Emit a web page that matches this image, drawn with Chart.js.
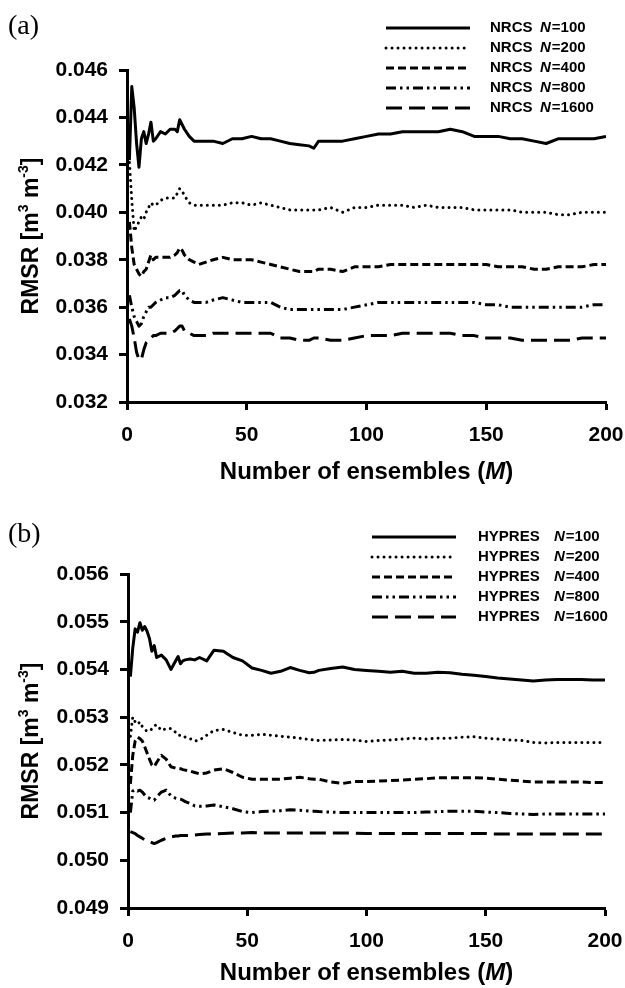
<!DOCTYPE html>
<html>
<head>
<meta charset="utf-8">
<script src="https://cdn.jsdelivr.net/npm/chart.js@4.4.2/dist/chart.umd.min.js"></script>
<style>
  html, body { margin: 0; padding: 0; background: #fff; }
  .panel { position: relative; width: 625px; height: 494px; }
</style>
</head>
<body>
<div class="panel"><canvas id="chartA" width="625" height="494"></canvas></div>
<div class="panel"><canvas id="chartB" width="625" height="494"></canvas></div>
<script>
// number of ensembles (x values shared by every series)
const M = [1, 2, 3, 4, 5, 6, 7, 8, 9, 10, 11, 12, 14, 16, 18, 20, 21, 22, 23, 24, 26, 28, 30, 33, 36, 40,
  44, 48, 52, 56, 60, 64, 68, 72, 76, 78, 80, 85, 90, 95, 100, 105, 110, 115, 120, 125, 130, 135, 140,
  145, 150, 155, 160, 165, 170, 175, 180, 185, 190, 195, 200];

const N_LABELS = ['100', '200', '400', '800', '1600'];

// (a) NRCS
const NRCS_100 = [0.0422, 0.0453, 0.0444, 0.0429, 0.0419, 0.0431, 0.0434, 0.0429, 0.0433, 0.0438, 0.0430,
  0.0431, 0.0434, 0.0433, 0.0435, 0.0435, 0.0434, 0.0439, 0.0437, 0.0435, 0.0432, 0.0430, 0.0430, 0.0430,
  0.0430, 0.0429, 0.0431, 0.0431, 0.0432, 0.0431, 0.0431, 0.0430, 0.0429, 0.04285, 0.0428, 0.0427, 0.0430,
  0.0430, 0.0430, 0.0431, 0.0432, 0.0433, 0.0433, 0.0434, 0.0434, 0.0434, 0.0434, 0.0435, 0.0434, 0.0432,
  0.0432, 0.0432, 0.0431, 0.0431, 0.0430, 0.0429, 0.0431, 0.0431, 0.0431, 0.0431, 0.0432];
const NRCS_200 = [0.0421, 0.0405, 0.0392, 0.0394, 0.0396, 0.0398, 0.0397, 0.0400, 0.0402, 0.0404, 0.0403,
  0.0403, 0.0405, 0.0406, 0.0406, 0.0406, 0.0408, 0.0410, 0.0409, 0.0407, 0.0404, 0.0403, 0.0403, 0.0403,
  0.0403, 0.0403, 0.0404, 0.0404, 0.0403, 0.0404, 0.0403, 0.0402, 0.0401, 0.0401, 0.0401, 0.0401, 0.0401,
  0.0402, 0.0400, 0.0402, 0.0402, 0.0403, 0.0403, 0.0403, 0.0402, 0.0403, 0.0402, 0.0402, 0.0402, 0.0401,
  0.0401, 0.0401, 0.0401, 0.0400, 0.0400, 0.0400, 0.0399, 0.0399, 0.0400, 0.0400, 0.0400];
const NRCS_400 = [0.0396, 0.0385, 0.0378, 0.0376, 0.0374, 0.0373, 0.0375, 0.0376, 0.0379, 0.0382, 0.0380,
  0.0381, 0.0381, 0.0381, 0.0381, 0.0382, 0.0383, 0.0385, 0.0384, 0.0382, 0.0380, 0.0379, 0.0378, 0.0379,
  0.0380, 0.0381, 0.0380, 0.0380, 0.0380, 0.0379, 0.0378, 0.0377, 0.0376, 0.0375, 0.0375, 0.0375, 0.0376,
  0.0376, 0.0375, 0.0377, 0.0377, 0.0377, 0.0378, 0.0378, 0.0378, 0.0378, 0.0378, 0.0378, 0.0378, 0.0378,
  0.0378, 0.0377, 0.0377, 0.0377, 0.0376, 0.0376, 0.0377, 0.0377, 0.0377, 0.0378, 0.0378];
const NRCS_800 = [0.0365, 0.0360, 0.0356, 0.0354, 0.0352, 0.0353, 0.0356, 0.0358, 0.0360, 0.0360, 0.0361,
  0.0362, 0.0363, 0.0364, 0.0364, 0.0365, 0.0366, 0.0367, 0.0367, 0.0365, 0.0363, 0.0362, 0.0362, 0.0362,
  0.0363, 0.0364, 0.0363, 0.0362, 0.0362, 0.0362, 0.0362, 0.0360, 0.0359, 0.0359, 0.0359, 0.0359, 0.0359,
  0.0359, 0.0359, 0.0360, 0.0361, 0.0362, 0.0362, 0.0362, 0.0362, 0.0362, 0.0362, 0.0362, 0.0362, 0.0362,
  0.0361, 0.0361, 0.0360, 0.0360, 0.0360, 0.0360, 0.0360, 0.0360, 0.0360, 0.0361, 0.0361];
const NRCS_1600 = [0.0355, 0.0352, 0.0347, 0.0341, 0.0338, 0.0338, 0.0342, 0.0345, 0.0346, 0.0347, 0.0348,
  0.0348, 0.0349, 0.0349, 0.0349, 0.0350, 0.0351, 0.0352, 0.0352, 0.0350, 0.0349, 0.0348, 0.0348, 0.0348,
  0.0349, 0.0349, 0.0349, 0.0349, 0.0349, 0.0349, 0.0349, 0.0347, 0.0347, 0.0346, 0.0346, 0.0347, 0.0347,
  0.0346, 0.0346, 0.0347, 0.0348, 0.0348, 0.0348, 0.0349, 0.0349, 0.0349, 0.0349, 0.0349, 0.0348, 0.0348,
  0.0347, 0.0347, 0.0347, 0.0346, 0.0346, 0.0346, 0.0346, 0.0346, 0.0347, 0.0347, 0.0347];

// (b) HYPRES
const HYPRES_100 = [0.05385, 0.05445, 0.05485, 0.05478, 0.05498, 0.05482, 0.05490, 0.05480, 0.05465,
  0.05438, 0.05450, 0.05425, 0.05430, 0.05420, 0.05400, 0.05418, 0.05427, 0.05412, 0.05418, 0.05420,
  0.05422, 0.05420, 0.05425, 0.05418, 0.05440, 0.05438, 0.05425, 0.05418, 0.05403, 0.05398, 0.05392,
  0.05396, 0.05404, 0.05398, 0.05393, 0.05394, 0.05398, 0.05402, 0.05405, 0.05400, 0.05398, 0.05396,
  0.05394, 0.05396, 0.05392, 0.05392, 0.05394, 0.05393, 0.05390, 0.05388, 0.05385, 0.05382, 0.05380,
  0.05378, 0.05376, 0.05378, 0.05379, 0.05379, 0.05379, 0.05378, 0.05378];
const HYPRES_200 = [0.05260, 0.05300, 0.05290, 0.05285, 0.05290, 0.05280, 0.05275, 0.05270, 0.05272,
  0.05275, 0.05282, 0.05284, 0.05272, 0.05276, 0.05276, 0.05268, 0.05262, 0.05262, 0.05262, 0.05258,
  0.05255, 0.05250, 0.05252, 0.05262, 0.05272, 0.05274, 0.05268, 0.05262, 0.05262, 0.05264, 0.05262,
  0.05260, 0.05258, 0.05256, 0.05253, 0.05252, 0.05251, 0.05252, 0.05253, 0.05252, 0.05249, 0.05251,
  0.05252, 0.05254, 0.05256, 0.05254, 0.05256, 0.05256, 0.05258, 0.05259, 0.05256, 0.05254, 0.05252,
  0.05251, 0.05247, 0.05246, 0.05247, 0.05247, 0.05247, 0.05247, 0.05247];
const HYPRES_400 = [0.05160, 0.05220, 0.05250, 0.05258, 0.05255, 0.05250, 0.05238, 0.05225, 0.05212,
  0.05200, 0.05196, 0.05205, 0.05220, 0.05212, 0.05196, 0.05193, 0.05193, 0.05192, 0.05190, 0.05189,
  0.05187, 0.05184, 0.05181, 0.05183, 0.05189, 0.05192, 0.05184, 0.05174, 0.05170, 0.05170, 0.05170,
  0.05170, 0.05172, 0.05174, 0.05171, 0.05170, 0.05170, 0.05164, 0.05161, 0.05165, 0.05165, 0.05166,
  0.05167, 0.05168, 0.05170, 0.05171, 0.05173, 0.05173, 0.05173, 0.05173, 0.05172, 0.05170, 0.05168,
  0.05166, 0.05164, 0.05164, 0.05164, 0.05164, 0.05164, 0.05163, 0.05163];
const HYPRES_800 = [0.05100, 0.05145, 0.05148, 0.05145, 0.05147, 0.05143, 0.05137, 0.05132, 0.05130,
  0.05127, 0.05126, 0.05133, 0.05143, 0.05147, 0.05135, 0.05130, 0.05129, 0.05128, 0.05126, 0.05123,
  0.05119, 0.05114, 0.05113, 0.05114, 0.05116, 0.05112, 0.05108, 0.05102, 0.05100, 0.05102, 0.05103,
  0.05104, 0.05106, 0.05105, 0.05103, 0.05103, 0.05102, 0.05101, 0.05100, 0.05100, 0.05100, 0.05100,
  0.05100, 0.05100, 0.05100, 0.05101, 0.05102, 0.05103, 0.05103, 0.05103, 0.05101, 0.05100, 0.05098,
  0.05097, 0.05096, 0.05097, 0.05097, 0.05097, 0.05097, 0.05097, 0.05097];
const HYPRES_1600 = [0.05060, 0.05058, 0.05056, 0.05052, 0.05049, 0.05046, 0.05043, 0.05041, 0.05039,
  0.05037, 0.05035, 0.05037, 0.05042, 0.05046, 0.05049, 0.05051, 0.05051, 0.05052, 0.05052, 0.05052,
  0.05052, 0.05053, 0.05054, 0.05055, 0.05055, 0.05056, 0.05057, 0.05057, 0.05058, 0.05057, 0.05057,
  0.05057, 0.05057, 0.05057, 0.05057, 0.05057, 0.05057, 0.05057, 0.05057, 0.05057, 0.05056, 0.05056,
  0.05056, 0.05056, 0.05056, 0.05056, 0.05056, 0.05056, 0.05056, 0.05056, 0.05056, 0.05055, 0.05055,
  0.05055, 0.05055, 0.05055, 0.05055, 0.05055, 0.05055, 0.05055, 0.05055];

const X_TICKS = [0, 50, 100, 150, 200];
const Y_TICKS_A = [0.032, 0.034, 0.036, 0.038, 0.040, 0.042, 0.044, 0.046];
const Y_TICKS_B = [0.049, 0.050, 0.051, 0.052, 0.053, 0.054, 0.055, 0.056];

const SANS = "'Liberation Sans', Arial, sans-serif";
const SERIF = "'Liberation Serif', 'Times New Roman', serif";

// one line style per N, same order as N_LABELS
const LINE_STYLES = [
  { borderDash: [], borderCapStyle: 'butt' },
  { borderDash: [0.01, 6], borderCapStyle: 'round' },
  { borderDash: [8, 4], borderCapStyle: 'butt' },
  { borderDash: [10, 4, 2.5, 4, 2.5, 4], borderCapStyle: 'butt' },
  { borderDash: [16, 7], borderCapStyle: 'butt' }
];

// legend, panel tag and axis titles (mixed italic / superscript text)
const figureText = {
  id: 'figureText',
  afterDraw(chart, args, opts) {
    const { ctx, chartArea } = chart;
    ctx.save();
    ctx.fillStyle = '#000';
    ctx.strokeStyle = '#000';

    // panel tag
    ctx.font = `28px ${SERIF}`;
    ctx.textBaseline = 'alphabetic';
    ctx.textAlign = 'left';
    ctx.fillText(opts.tag, 8, opts.tagY);

    // legend
    chart.data.datasets.forEach((ds, i) => {
      const y = opts.legendTop + i * 20;
      ctx.beginPath();
      ctx.lineWidth = ds.borderWidth;
      ctx.lineCap = ds.borderCapStyle;
      ctx.setLineDash(ds.borderDash);
      ctx.moveTo(opts.lineX1, y);
      ctx.lineTo(opts.lineX2, y);
      ctx.stroke();
      ctx.setLineDash([]);
      ctx.textBaseline = 'middle';
      ctx.font = `bold 15px ${SANS}`;
      ctx.fillText(opts.name, opts.textX, y);
      const nx = opts.textX + opts.nOffset;
      ctx.font = `italic bold 15px ${SANS}`;
      ctx.fillText('N', nx, y);
      const nw = ctx.measureText('N').width;
      ctx.font = `bold 15px ${SANS}`;
      ctx.fillText('=' + N_LABELS[i], nx + nw + 1, y);
    });

    // x title: Number of ensembles (M)
    const parts = [
      [`bold 24px ${SANS}`, 'Number of ensembles ('],
      [`italic bold 24px ${SANS}`, 'M'],
      [`bold 24px ${SANS}`, ')']
    ];
    let total = 0;
    parts.forEach(p => { ctx.font = p[0]; total += ctx.measureText(p[1]).width; });
    let x = (chartArea.left + chartArea.right) / 2 - total / 2;
    ctx.textBaseline = 'alphabetic';
    parts.forEach(p => {
      ctx.font = p[0];
      ctx.fillText(p[1], x, opts.xTitleY);
      x += ctx.measureText(p[1]).width;
    });

    // y title: RMSR [m3 m-3]
    const yparts = [
      [`bold 23px ${SANS}`, 'RMSR [m', 0],
      [`bold 14px ${SANS}`, '3', -10],
      [`bold 23px ${SANS}`, ' m', 0],
      [`bold 14px ${SANS}`, '-3', -10],
      [`bold 23px ${SANS}`, ']', 0]
    ];
    let ytotal = 0;
    yparts.forEach(p => { ctx.font = p[0]; ytotal += ctx.measureText(p[1]).width; });
    ctx.translate(38, (chartArea.top + chartArea.bottom) / 2);
    ctx.rotate(-Math.PI / 2);
    let yx = -ytotal / 2;
    yparts.forEach(p => {
      ctx.font = p[0];
      ctx.fillText(p[1], yx, p[2]);
      yx += ctx.measureText(p[1]).width;
    });
    ctx.restore();
  }
};

function makeChart(canvasId, series, name, yTicks, box, text) {
  return new Chart(document.getElementById(canvasId), {
    type: 'line',
    data: {
      datasets: series.map((values, i) => ({
        label: `${name} N=${N_LABELS[i]}`,
        data: M.map((m, k) => ({ x: m, y: values[k] })),
        borderColor: '#000',
        borderWidth: 3,
        borderDash: LINE_STYLES[i].borderDash,
        borderCapStyle: LINE_STYLES[i].borderCapStyle,
        borderJoinStyle: 'round',
        pointRadius: 0,
        tension: 0,
        fill: false
      }))
    },
    options: {
      responsive: false,
      animation: false,
      devicePixelRatio: 1,
      layout: {
        padding: { top: box.top, right: box.right, left: 0, bottom: 0 }
      },
      plugins: {
        legend: { display: false },
        tooltip: { enabled: false },
        figureText: text
      },
      scales: {
        x: {
          type: 'linear',
          min: X_TICKS[0],
          max: X_TICKS[X_TICKS.length - 1],
          afterBuildTicks: scale => { scale.ticks = X_TICKS.map(v => ({ value: v })); },
          afterFit: scale => {
            scale.height = box.xHeight;
            scale.paddingLeft = 0;
            scale.paddingRight = 0;
          },
          ticks: {
            color: '#000',
            padding: 13,
            maxRotation: 0,
            font: { family: SANS, size: 21, weight: 'bold' }
          },
          grid: {
            drawOnChartArea: false,
            tickLength: 8,
            tickWidth: 3,
            tickColor: '#000'
          },
          border: { display: true, color: '#000', width: 3 }
        },
        y: {
          min: yTicks[0],
          max: yTicks[yTicks.length - 1],
          afterBuildTicks: scale => { scale.ticks = yTicks.map(v => ({ value: v })); },
          afterFit: scale => {
            scale.width = box.yWidth;
            scale.paddingTop = 0;
            scale.paddingBottom = 0;
          },
          ticks: {
            color: '#000',
            padding: 11,
            callback: v => v.toFixed(3),
            font: { family: SANS, size: 21, weight: 'bold' }
          },
          grid: {
            drawOnChartArea: false,
            tickLength: 8,
            tickWidth: 3,
            tickColor: '#000'
          },
          border: { display: true, color: '#000', width: 3 }
        }
      }
    },
    plugins: [figureText]
  });
}

makeChart('chartA', [NRCS_100, NRCS_200, NRCS_400, NRCS_800, NRCS_1600], 'NRCS', Y_TICKS_A,
  { top: 70, right: 19, xHeight: 92, yWidth: 127 },
  { tag: '(a)', tagY: 34, name: 'NRCS', nOffset: 50, legendTop: 28, lineX1: 386, lineX2: 470, textX: 490, xTitleY: 479 });

makeChart('chartB', [HYPRES_100, HYPRES_200, HYPRES_400, HYPRES_800, HYPRES_1600], 'HYPRES', Y_TICKS_B,
  { top: 80, right: 20, xHeight: 80, yWidth: 128 },
  { tag: '(b)', tagY: 48, name: 'HYPRES', nOffset: 76, legendTop: 43, lineX1: 372, lineX2: 456, textX: 478, xTitleY: 486 });
</script>
</body>
</html>
